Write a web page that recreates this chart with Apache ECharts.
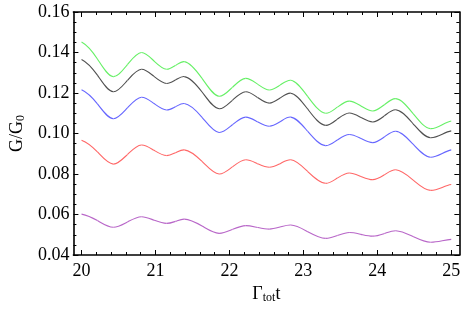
<!DOCTYPE html>
<html>
<head>
<meta charset="utf-8">
<script src="https://cdn.jsdelivr.net/npm/echarts@6/dist/echarts.min.js"></script>
<style>
html,body{margin:0;padding:0;background:#fff;}
#c{width:463px;height:309px;}
</style>
</head>
<body>
<div id="c"></div>
<script>
// time points (Gamma_tot t): extrema of the curves (even positions) and the points half way between them (odd positions)
var tValues = [20.0, 20.215, 20.43, 20.62, 20.81, 20.98, 21.15, 21.27, 21.39, 21.63, 21.86, 22.04, 22.22, 22.38, 22.54, 22.685, 22.83, 23.06, 23.3, 23.46, 23.62, 23.78, 23.94, 24.095, 24.25, 24.485, 24.72, 25.0];
var greenValues  = [0.1452, 0.1368, 0.1281, 0.1340, 0.1400, 0.1358, 0.1317, 0.1336, 0.1355, 0.1272, 0.1184, 0.1228, 0.1272, 0.1244, 0.1215, 0.1239, 0.1263, 0.1182, 0.1100, 0.1130, 0.1160, 0.1136, 0.1111, 0.1142, 0.1172, 0.1098, 0.1024, 0.1062];
var blackValues  = [0.1366, 0.1288, 0.1206, 0.1262, 0.1317, 0.1282, 0.1247, 0.1264, 0.1281, 0.1205, 0.1122, 0.1164, 0.1206, 0.1178, 0.1150, 0.1175, 0.1199, 0.1120, 0.1040, 0.1071, 0.1101, 0.1079, 0.1057, 0.1087, 0.1117, 0.1048, 0.0979, 0.1013];
var blueValues   = [0.1216, 0.1146, 0.1073, 0.1126, 0.1179, 0.1148, 0.1116, 0.1132, 0.1148, 0.1080, 0.1005, 0.1043, 0.1081, 0.1058, 0.1036, 0.1058, 0.1081, 0.1010, 0.0940, 0.0968, 0.0995, 0.0975, 0.0955, 0.0983, 0.1011, 0.0947, 0.0883, 0.0919];
var redValues    = [0.0967, 0.0909, 0.0849, 0.0896, 0.0943, 0.0917, 0.0891, 0.0905, 0.0919, 0.0862, 0.0800, 0.0835, 0.0870, 0.0851, 0.0833, 0.0851, 0.0870, 0.0812, 0.0754, 0.0780, 0.0805, 0.0788, 0.0772, 0.0796, 0.0821, 0.0770, 0.0719, 0.0748];
var purpleValues = [0.0602, 0.0570, 0.0537, 0.0563, 0.0589, 0.0572, 0.0556, 0.0566, 0.0577, 0.0543, 0.0507, 0.0526, 0.0545, 0.0536, 0.0528, 0.0538, 0.0548, 0.0515, 0.0482, 0.0496, 0.0511, 0.0502, 0.0493, 0.0506, 0.0520, 0.0491, 0.0463, 0.0477];
var xMajorTicks = [20, 21, 22, 23, 24, 25];
var xMinorTicks = [20.2, 20.4, 20.6, 20.8, 21.2, 21.4, 21.6, 21.8, 22.2, 22.4, 22.6, 22.8, 23.2, 23.4, 23.6, 23.8, 24.2, 24.4, 24.6, 24.8];

var FONT = "'Liberation Serif', 'DejaVu Serif', serif";
var chart = echarts.init(document.getElementById('c'), null, {renderer: 'canvas'});

function pairs(vals) { return tValues.map(function (t, i) { return [t, vals[i]]; }); }

function xAx(pos, major, labels) {
  return {
    type: 'value', min: 19.89, max: 25.11, position: pos,
    axisLine: {show: major, onZero: false, lineStyle: {color: '#000', width: 1.6}},
    axisTick: {show: true, inside: true, length: major ? 5 : 3, customValues: major ? xMajorTicks : xMinorTicks, lineStyle: {color: '#000', width: 1}},
    axisLabel: {show: labels, customValues: xMajorTicks, color: '#000', fontFamily: FONT, fontSize: 18, margin: 7},
    splitLine: {show: false},
    name: labels ? '{n|Γ}{s|tot}{n|t}' : '',
    nameLocation: 'middle', nameGap: 29,
    nameTextStyle: {rich: {n: {fontFamily: FONT, fontSize: 18, color: '#000'}, s: {fontFamily: FONT, fontSize: 12, color: '#000', padding: [8, 0, 0, 0]}}}
  };
}
function yAx(pos, labels) {
  return {
    type: 'value', min: 0.04, max: 0.16, interval: 0.02, position: pos,
    axisLine: {show: true, onZero: false, lineStyle: {color: '#000', width: 1.6}},
    axisTick: {show: true, inside: true, length: 5, lineStyle: {color: '#000', width: 1}},
    minorTick: {show: true, splitNumber: 4, length: 3, lineStyle: {color: '#000', width: 1}},
    axisLabel: {show: labels, color: '#000', fontFamily: FONT, fontSize: 18, margin: 4, formatter: function (v) { return v.toFixed(2); }},
    splitLine: {show: false}, minorSplitLine: {show: false},
    name: labels ? '{n|G/G}{s|0}' : '',
    nameLocation: 'middle', nameGap: 42, nameRotate: 90,
    nameTextStyle: {rich: {n: {fontFamily: FONT, fontSize: 18, color: '#000'}, s: {fontFamily: FONT, fontSize: 12, color: '#000', padding: [8, 0, 0, 0]}}}
  };
}

// smooth curve: each data item draws a cubic Hermite segment (x-based slopes) to
// the next item; all positions come from the axes through api.coord
var K_MID = 1.4, K_EXT = 0.3;
function curve(name, vals, color) {
  return {
    name: name, type: 'custom', xAxisIndex: 0, yAxisIndex: 0,
    data: pairs(vals), encode: {x: 0, y: 1}, silent: true, animation: false,
    renderItem: function (params, api) {
      var i = params.dataIndex, n = tValues.length;
      if (i >= n - 1) return null;
      function P(k) { k = Math.max(0, Math.min(n - 1, k)); return api.coord([tValues[k], vals[k]]); }
      function slope(k) {
        var a = P(k - 1), b = P(k + 1);
        if (b[0] === a[0]) return 0;
        var s = (b[1] - a[1]) / (b[0] - a[0]);
        if (k === 0 || k === n - 1) return s * 0.5;
        return s * (k % 2 === 1 ? K_MID : K_EXT);
      }
      var p1 = P(i), p2 = P(i + 1);
      var h = (p2[0] - p1[0]) / 3;
      var m1 = slope(i), m2 = slope(i + 1);
      return {
        type: 'bezierCurve',
        shape: {
          x1: p1[0], y1: p1[1], x2: p2[0], y2: p2[1],
          cpx1: p1[0] + h, cpy1: p1[1] + m1 * h,
          cpx2: p2[0] - h, cpy2: p2[1] - m2 * h
        },
        style: {stroke: color, fill: null, lineWidth: 1.1}
      };
    }
  };
}

chart.setOption({
  backgroundColor: '#fff',
  animation: false,
  grid: {left: 62, right: 1.5, top: 12, bottom: 51, containLabel: false},
  xAxis: [xAx('bottom', true, true), xAx('bottom', false, false), xAx('top', true, false), xAx('top', false, false)],
  yAxis: [yAx('left', true), yAx('right', false)],
  series: [
    curve('green', greenValues, '#66f066'),
    curve('black', blackValues, '#505050'),
    curve('blue', blueValues, '#6666ff'),
    curve('red', redValues, '#ff6666'),
    curve('purple', purpleValues, '#b866c8')
  ]
});
</script>
</body>
</html>
